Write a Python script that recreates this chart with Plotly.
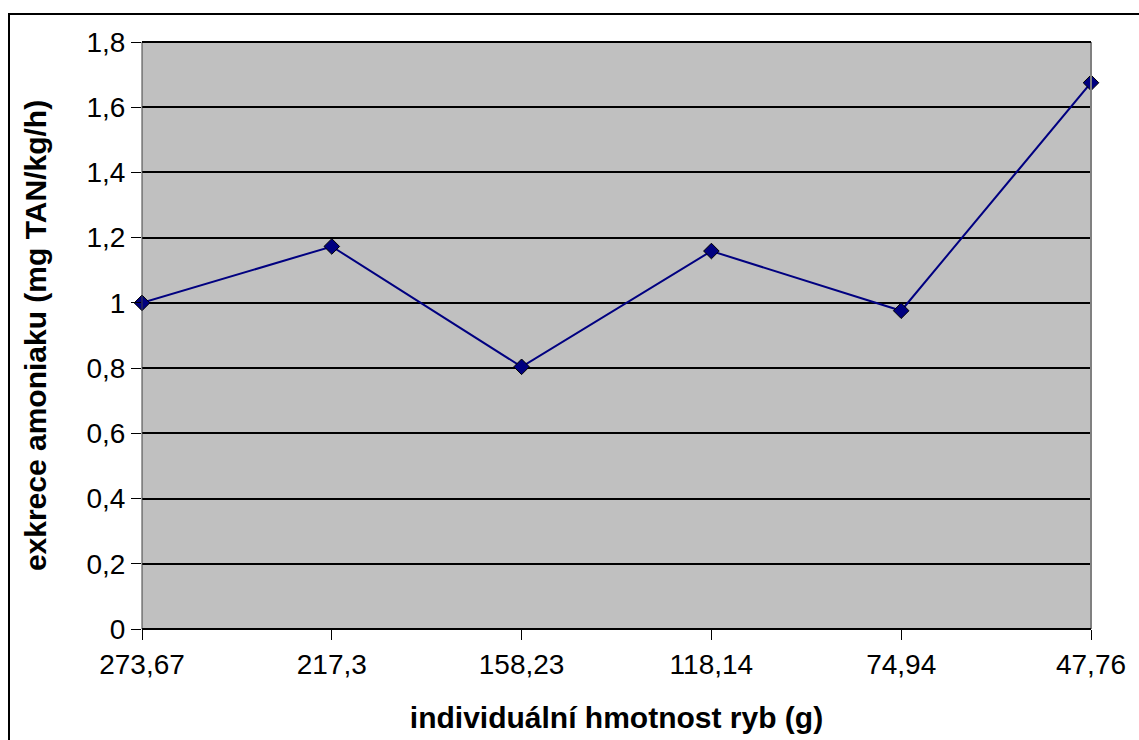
import plotly.graph_objects as go

categories = ["273,67", "217,3", "158,23", "118,14", "74,94", "47,76"]
values = [1.0, 1.173, 0.804, 1.159, 0.976, 1.675]
y_ticks = [0, 0.2, 0.4, 0.6, 0.8, 1.0, 1.2, 1.4, 1.6, 1.8]
y_tick_labels = ["0", "0,2", "0,4", "0,6", "0,8", "1", "1,2", "1,4", "1,6", "1,8"]

W, H = 1139, 740
L, R, T, B = 142, 48, 42, 111
pw, ph = W - L - R, H - T - B

def px(x):
    return (x - L) / pw

def py(y):
    return (H - B - y) / ph

fig = go.Figure()
fig.add_trace(go.Scatter(
    x=list(range(len(categories))), y=values, mode="lines+markers",
    line=dict(color="#000080", width=2),
    marker=dict(symbol="diamond", size=12, color="#000080",
                line=dict(color="#000000", width=1)),
    showlegend=False, cliponaxis=False,
))

font = "Liberation Sans, Arial, sans-serif"
fig.update_layout(
    width=W, height=H,
    margin=dict(l=L, r=R, t=T, b=B),
    paper_bgcolor="white", plot_bgcolor="#C0C0C0",
    font=dict(family=font, size=28, color="black"),
    xaxis=dict(
        range=[0, len(categories) - 1],
        tickvals=list(range(len(categories))), ticktext=categories,
        ticks="outside", ticklen=10, tickcolor="black", tickwidth=1,
        showgrid=False, zeroline=False, showline=False,
        tickfont=dict(size=28, family=font),
        title=dict(text="<b>individuální hmotnost ryb (g)</b>",
                   font=dict(size=30, family=font), standoff=28),
    ),
    yaxis=dict(
        range=[0, 1.8], tickvals=y_ticks, ticktext=y_tick_labels,
        ticks="outside", ticklen=10, tickcolor="black", tickwidth=1,
        showgrid=True, gridcolor="black", gridwidth=2,
        zeroline=False, showline=False,
        tickfont=dict(size=28, family=font),
        title=dict(text="<b>exkrece amoniaku (mg TAN/kg/h)</b>",
                   font=dict(size=30, family=font), standoff=30),
    ),
    shapes=[
        # plot area borders
        dict(type="line", xref="paper", yref="paper", x0=1, x1=1, y0=0, y1=1,
             line=dict(color="#808080", width=2)),
        dict(type="line", xref="paper", yref="paper", x0=0, x1=0, y0=0, y1=1,
             line=dict(color="#404040", width=1)),
        dict(type="line", xref="paper", yref="paper", x0=0, x1=1, y0=0, y1=0,
             line=dict(color="black", width=2)),
        dict(type="line", xref="paper", yref="paper", x0=0, x1=1, y0=1, y1=1,
             line=dict(color="black", width=2)),
        # outer chart border
        dict(type="rect", xref="paper", yref="paper",
             x0=px(9), x1=px(W + 20), y0=py(H + 20), y1=py(14),
             line=dict(color="black", width=2), fillcolor="rgba(0,0,0,0)",
             layer="below"),
    ],
)

fig.write_html("out.html")
